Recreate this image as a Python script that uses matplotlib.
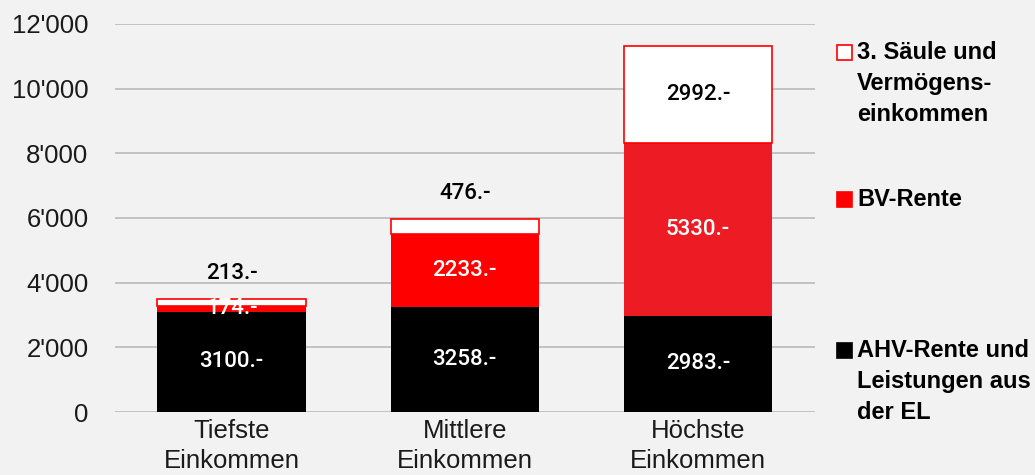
import matplotlib.pyplot as plt
from matplotlib.patches import Rectangle
from matplotlib.ticker import FuncFormatter

plt.rcParams['font.family'] = ['Liberation Sans', 'DejaVu Sans']

categories = ["Tiefste\nEinkommen", "Mittlere\nEinkommen", "Höchste\nEinkommen"]
ahv = [3100, 3258, 2983]
bv = [174, 2233, 5330]
saeule3 = [213, 476, 2992]
legend_labels = ["3. Säule und\nVermögens-\neinkommen", "BV-Rente",
                 "AHV-Rente und\nLeistungen aus\nder EL"]
bv_colors = ['#FF0000', '#FF0000', '#ED1C24']

bg = '#F2F2F2'
red = '#FF0000'

fig = plt.figure(figsize=(10.35, 4.75), dpi=100, facecolor=bg)
ax = fig.add_axes([0.111, 0.1326, 0.676, 0.817], facecolor=bg)

x = range(len(categories))
w = 0.635
ax.bar(x, ahv, w, color='black', zorder=3)
ax.bar(x, bv, w, bottom=ahv, color=bv_colors, zorder=3)
bottom3 = [a + b for a, b in zip(ahv, bv)]
ax.bar(x, saeule3, w, bottom=bottom3, color='white', edgecolor=red, linewidth=1.2, zorder=3)

lab = dict(ha='center', va='center', fontsize=16, fontweight='medium',
           family=['Roboto', 'DejaVu Sans'], zorder=4)
for i in x:
    ax.text(i, ahv[i] / 2, f"{ahv[i]}.-", color='white', **lab)
    ax.text(i, ahv[i] + bv[i] / 2, f"{bv[i]}.-", color='white', **lab)
    top = bottom3[i] + saeule3[i]
    if saeule3[i] > 1000:
        ax.text(i, bottom3[i] + saeule3[i] / 2, f"{saeule3[i]}.-", color='black', **lab)
    else:
        ax.text(i, top + 800, f"{saeule3[i]}.-", color='black', **lab)

ax.set_xlim(-0.5, 2.5)
ax.set_ylim(0, 12000)
ax.set_yticks(range(0, 12001, 2000))
ax.yaxis.set_major_formatter(FuncFormatter(lambda v, p: f"{int(v):,}".replace(",", "'")))
ax.set_xticks(list(x))
ax.set_xticklabels(categories, linespacing=1.3)
ax.tick_params(axis='y', length=0, pad=19, labelsize=18.5, labelcolor='#1a1a1a')
ax.tick_params(axis='x', length=0, pad=5, labelsize=18.5, labelcolor='#1a1a1a')
ax.grid(axis='y', color='#BFBFBF', linewidth=1.3, zorder=0)
for s in ax.spines.values():
    s.set_visible(False)

# legend drawn by hand to match the spread-out layout
W, H = 1035, 475
entries = [(legend_labels[0], 'white', red, 53),
           (legend_labels[1], red, red, 200),
           (legend_labels[2], 'black', 'black', 351)]
for text, fc, ec, ypx in entries:
    fig.patches.append(Rectangle((837 / W, 1 - (ypx + 7) / H), 15 / W, 15 / H,
                                 transform=fig.transFigure, facecolor=fc,
                                 edgecolor=ec, linewidth=1.2))
    fig.text(857 / W, 1 - (ypx - 12) / H, text, ha='left', va='top', fontsize=17,
             fontweight='bold', color='black', linespacing=1.45)

fig.savefig('out.png', dpi=100, facecolor=bg)
